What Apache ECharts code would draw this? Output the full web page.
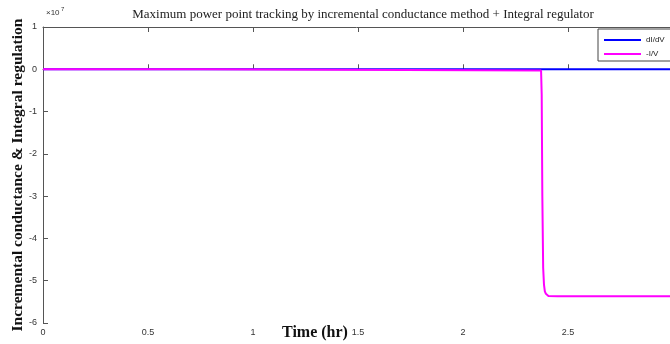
<!DOCTYPE html>
<html><head><meta charset="utf-8">
<script src="https://cdn.jsdelivr.net/npm/echarts@6/dist/echarts.min.js"></script>
<style>html,body{margin:0;padding:0;background:#fff}#c{width:670px;height:344px}</style>
</head><body><div id="c"></div>
<script>
// time in hours, values in units of 1e7
const dIdV_t = [0, 3];
const dIdV_v = [0, 0];
const negIV_t = [0, 0.75, 0.7501, 2.372, 2.375, 2.378, 2.382, 2.386, 2.39, 2.395, 2.40, 2.407, 2.415, 2.45, 2.5, 2.6, 2.7, 2.8, 2.9, 3.0];
const negIV_v = [0, 0, -0.03, -0.03, -0.6, -3.0, -4.7, -5.1, -5.25, -5.31, -5.34, -5.36, -5.37, -5.37, -5.37, -5.37, -5.37, -5.37, -5.37, -5.37];
const xTicks = [0, 0.5, 1, 1.5, 2, 2.5];
const yTicks = [-6, -5, -4, -3, -2, -1, 0, 1];
const titleText = 'Maximum power point tracking by incremental conductance method + Integral regulator';
const xTitle = 'Time (hr)';
const yTitle = 'Incremental conductance & Integral regulation';

const chart = echarts.init(document.getElementById('c'), null, {renderer: 'canvas'});
const axisLineStyle = {color: '#555', width: 1};
const tickFont = {fontFamily: 'Liberation Sans, Arial, sans-serif', fontSize: 9, color: '#333'};
chart.setOption({
  animation: false,
  backgroundColor: '#fff',
  title: {
    text: titleText, left: 358, textAlign: 'center', top: 3,
    textStyle: {fontFamily: 'Liberation Serif, Times New Roman, serif', fontSize: 13, fontWeight: 'normal', color: '#222'}
  },
  legend: {
    left: 598, top: 29, orient: 'vertical', itemGap: 6,
    backgroundColor: '#fff', borderColor: '#444', borderWidth: 1,
    padding: [7, 20, 3, 6], itemWidth: 37, itemHeight: 2, icon: 'rect',
    textStyle: {fontFamily: 'Liberation Sans, Arial, sans-serif', fontSize: 8, color: '#222'},
    data: ['dI/dV', '-I/V']
  },
  grid: {left: 43, right: 0, top: 27, bottom: 21, containLabel: false, outerBoundsMode: 'none'},
  xAxis: [{
    type: 'value', min: 0, max: 2.986, interval: 0.5, position: 'bottom',
    axisLine: {show: true, lineStyle: axisLineStyle},
    axisTick: {show: true, inside: true, length: 5, lineStyle: axisLineStyle},
    axisLabel: Object.assign({margin: 5, showMaxLabel: false, formatter: v => xTicks.includes(v) ? String(v) : ''}, tickFont),
    splitLine: {show: false}
  }, {
    type: 'value', min: 0, max: 2.986, interval: 0.5, position: 'top',
    axisLine: {show: true, lineStyle: axisLineStyle},
    axisTick: {show: true, inside: true, length: 5, lineStyle: axisLineStyle},
    axisLabel: {show: false}, splitLine: {show: false}
  }],
  yAxis: [{
    type: 'value', min: -6, max: 1, interval: 1,
    axisLine: {show: true, lineStyle: axisLineStyle},
    axisTick: {show: true, inside: true, length: 5, lineStyle: axisLineStyle},
    axisLabel: Object.assign({margin: 6, formatter: v => yTicks.includes(v) ? String(v) : ''}, tickFont),
    splitLine: {show: false},
    name: yTitle, nameLocation: 'middle', nameGap: 17, nameRotate: 90, nameMoveOverlap: false,
    nameTextStyle: {fontFamily: 'Liberation Serif, Times New Roman, serif', fontSize: 15.5, fontWeight: 'bold', color: '#111'}
  }],
  graphic: [{
    type: 'text', left: 46, top: 9,
    style: {text: '×10', font: '8px Liberation Sans, Arial, sans-serif', fill: '#333'}
  }, {
    type: 'text', left: 61, top: 6,
    style: {text: '7', font: '6px Liberation Sans, Arial, sans-serif', fill: '#333'}
  }, {
    type: 'text', left: 282, top: 325,
    style: {text: xTitle, font: 'bold 16px Liberation Serif, Times New Roman, serif', fill: '#111'}
  }],
  series: [{
    name: 'dI/dV', type: 'line', showSymbol: false, symbol: 'none', color: '#0000ff',
    lineStyle: {width: 2, color: '#0000ff'},
    data: dIdV_t.map((t, i) => [t, dIdV_v[i]])
  }, {
    name: '-I/V', type: 'line', showSymbol: false, symbol: 'none', color: '#ff00ff',
    lineStyle: {width: 2, color: '#ff00ff'},
    data: negIV_t.map((t, i) => [t, negIV_v[i]])
  }]
});
</script></body></html>
